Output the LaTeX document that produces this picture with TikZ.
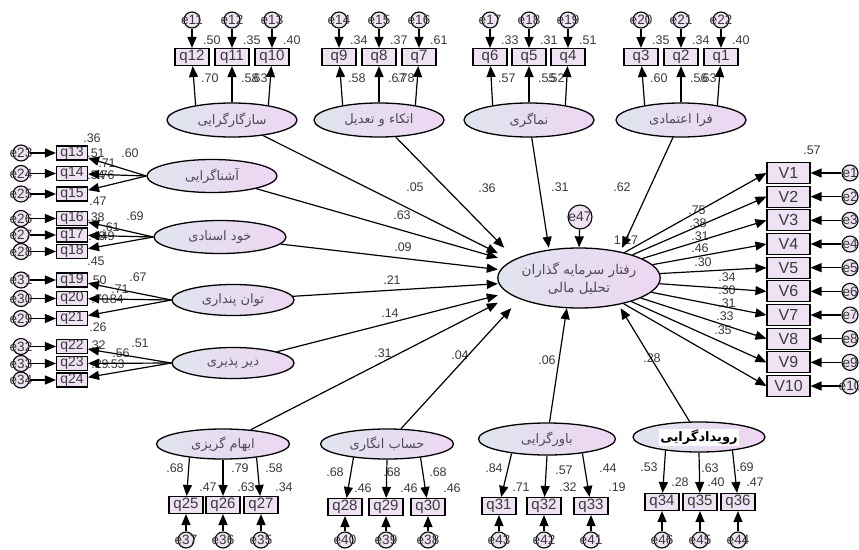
\documentclass[tikz,border=0pt]{standalone}
\usepackage{fontspec}
\setmainfont{Liberation Sans}
\newfontfamily\fa[Script=Arabic]{DejaVu Sans}
\TeXXeTstate=1
\usetikzlibrary{shapes.geometric,arrows.meta}
\definecolor{ellL}{HTML}{E0E4EE}
\definecolor{ellR}{HTML}{EED6F2}
\definecolor{boxF}{HTML}{EEE2F3}
\definecolor{txt}{HTML}{3A3A3A}
\definecolor{fatxt}{HTML}{4E4A58}
\begin{document}
\begin{tikzpicture}[x=1pt,y=-1pt,
 arr/.style={-{Triangle[length=11pt,width=9pt]}, line width=1.2pt, black},
 qbox/.style={draw, line width=1.1pt, fill=boxF, minimum width=34pt, minimum height=17pt, inner sep=0pt, font=\fontsize{15}{15}\selectfont, text=txt},
 lbox/.style={qbox, minimum width=31pt, minimum height=14pt, font=\fontsize{14}{14}\selectfont},
 vbox/.style={qbox, minimum width=43pt, minimum height=21pt, font=\fontsize{16}{16}\selectfont},
 err/.style={circle, draw, line width=1.1pt, fill=boxF, minimum size=16pt, inner sep=0pt, font=\fontsize{13.5}{13.5}\selectfont, text=txt},
 lat/.style={ellipse, draw, line width=1.3pt, left color=ellL, right color=ellR, inner sep=0pt, font=\fa\fontsize{13}{15}\selectfont, text=fatxt},
 lbl/.style={inner sep=0pt, font=\fontsize{12.5}{12.5}\selectfont, text=txt},
]
\useasboundingbox (0,0) rectangle (859,549);

% ---------- latent variables ----------
\node[lat, minimum width=130pt, minimum height=34pt] (A1) at (232,120) {\beginR سازگارگرایی\endR};
\node[lat, minimum width=130pt, minimum height=34pt] (A2) at (379,120) {\beginR اتکاء و تعدیل\endR};
\node[lat, minimum width=130pt, minimum height=34pt] (A3) at (529,120) {\beginR نماگری\endR};
\node[lat, minimum width=130pt, minimum height=34pt] (A4) at (681,120) {\beginR فرا اعتمادی\endR};
\node[lat, minimum width=130pt, minimum height=33pt] (L1) at (212,176) {\beginR آشناگرایی\endR};
\node[lat, minimum width=132pt, minimum height=33pt] (L2) at (220,237) {\beginR خود اسنادی\endR};
\node[lat, minimum width=122pt, minimum height=31pt] (L3) at (233,300) {\beginR توان پنداری\endR};
\node[lat, minimum width=122pt, minimum height=31pt] (L4) at (233,363) {\beginR دیر پذیری\endR};
\node[lat, minimum width=133pt, minimum height=30pt] (B1) at (223,444) {\beginR ابهام گریزی\endR};
\node[lat, minimum width=133pt, minimum height=30pt] (B2) at (387,444) {\beginR حساب انگاری\endR};
\node[lat, minimum width=137pt, minimum height=32pt] (B3) at (547,439) {\beginR باورگرایی\endR};
\node[lat, minimum width=132pt, minimum height=30pt, text=black] (B4) at (699,437) {\setlength{\fboxsep}{1pt}\colorbox{white}{\bfseries\beginR رویدادگرایی\endR}};
\node[lat, minimum width=162pt, minimum height=60pt, align=center, font=\fa\fontsize{13.5}{18}\selectfont] (C) at (579,278) {\beginR رفتار سرمایه گذاران\endR\\\beginR تحلیل مالی\endR};
\node[draw=none, minimum width=162pt, minimum height=60pt, inner sep=0pt] (Cb) at (579,278) {};
\node[err, minimum size=24pt, font=\fontsize{14}{14}\selectfont] (e47) at (580,217) {\makebox[0pt]{e47}};

% ---------- top indicators ----------
\foreach \n/\x/\ee/\rsq in {12/192/11/.50, 11/232/12/.35, 10/272/13/.40, 9/339/14/.34, 8/379/15/.37, 7/419/16/.61, 6/490/17/.33, 5/529/18/.31, 4/568/19/.51, 3/641/20/.35, 2/681/21/.34, 1/721/22/.40}{
  \node[qbox] (q\n) at (\x,57) {q\n};
  \node[err] (e\ee) at (\x,20) {\makebox[0pt]{e\ee}};
  \node[lbl, anchor=west] (r\n) at (\x+11,40) {\rsq};
}
% ---------- left indicators ----------
\foreach \n/\y/\ee in {13/153/23, 14/173.5/24, 15/194/25, 16/218.5/26, 17/235/27, 18/251.5/28, 19/280/31, 20/298.5/30, 21/318.5/29, 22/346.5/32, 23/363.5/33, 24/380/34}{
  \node[lbox] (q\n) at (72,\y) {q\n};
  \node[err] (e\ee) at (21,\y) {\makebox[0pt]{e\ee}};
}
% ---------- bottom indicators ----------
\foreach \n/\x/\y/\ee in {25/186/505/37, 26/223/505/36, 27/261/505/35, 28/345/507/40, 29/386/507/39, 30/428/507/38, 31/499/506/43, 32/544/506/42, 33/591/506/41, 34/662/502/46, 35/700/502/45, 36/738/502/44}{
  \node[qbox] (q\n) at (\x,\y) {q\n};
  \node[err] (e\ee) at (\x,540) {\makebox[0pt]{e\ee}};
}
% ---------- right indicators ----------
\foreach \i in {1,...,10}{
  \pgfmathsetmacro{\vy}{173+(\i-1)*23.67}
  \node[vbox] (V\i) at (788.5,\vy) {V\i};
  \node[err] (e\i) at (850,\vy) {\makebox[0pt]{e\i}};
}

% ---------- labels ----------
\foreach \k/\x/\v in {a/201/.70, b/241/.58, c/250/.63, d/348/.58, e/388/.67, f/397/.78, g/498/.57, h/538/.55, i/547/.52, j/650/.60, k/690/.56, l/699/.63}{
  \node[lbl, anchor=west] (tl\k) at (\x,78) {\v};
}
\foreach \k/\x/\y/\v in {a/92/138/.36, b/130/153/.60, c/96/153/.51, d/107/163/.71, e/96/175/.54, f/106/175/.76, g/98/201/.47,
  h/96/217/.38, i/135/216/.69, j/111/227/.61, k/97/236/.40, l/106/236/.49, m/96/261/.45,
  n/98/280/.50, o/138/277/.67, p/120/289/.71, q/100/299/.70, r/115/299/.84, s/98/327/.26,
  t/97/345/.32, u/140/343/.51, w/121/353/.56, x/100/364/.29, z/116/364/.53}{
  \node[lbl] (ll\k) at (\x,\y) {\v};
}
\foreach \k/\x/\y/\v in {a/175/468/.68, b/208/487/.47, c/240/468/.79, d/246/487/.63, e/274/468/.58, f/284/487/.34,
  g/335/472/.68, h/363/488/.46, i/392/472/.68, j/409/488/.46, k/438/472/.68, l/452/488/.46,
  m/494/468/.84, n/521/487/.71, o/564/470/.57, p/568/487/.32, q/608/468/.44, r/617/487/.19,
  s/649/467/.53, t/680/482/.28, u/710/468/.63, w/716/482/.40, x/745/467/.69, z/755/482/.47}{
  \node[lbl] (bl\k) at (\x,\y) {\v};
}
\foreach \k/\x/\y/\v in {a/415/187/.05, b/487/188/.36, c/560/187/.31, d/622/187/.62, e/402/215/.63, f/403/247/.09,
  g/392/280/.21, h/390/313/.14, i/383/353/.31, j/460/355/.04, k/547/360/.06, l/652/358/.28, m/626/240/1.17}{
  \node[lbl] (pl\k) at (\x,\y) {\v};
}
\foreach \k/\x/\y/\v in {a/697/210/.75, b/698/223/.38, c/700/236/.31, d/700/248/.46, e/703/262/.30,
  f/727/277/.34, g/727/290/.30, h/727/303/.31, i/725/316/.33, j/723/330/.35, k/812/150/.57}{
  \node[lbl] (rl\k) at (\x,\y) {\v};
}

% ---------- connectors ----------
\foreach \ee/\n in {11/12,12/11,13/10,14/9,15/8,16/7,17/6,18/5,19/4,20/3,21/2,22/1,
  23/13,24/14,25/15,26/16,27/17,28/18,31/19,30/20,29/21,32/22,33/23,34/24,
  37/25,36/26,35/27,40/28,39/29,38/30,43/31,42/32,41/33,46/34,45/35,44/36}{
  \draw[arr] (e\ee) -- (q\n);
}
\foreach \i in {1,...,10}{
  \draw[arr] (e\i) -- (V\i);
  \draw[arr] (C) -- (V\i.west);
}
\foreach \a/\l/\m/\r in {A1/12/11/10, A2/9/8/7, A3/6/5/4, A4/3/2/1}{
  \draw[arr] (\a.158) -- (q\l);
  \draw[arr] (\a.north) -- (q\m);
  \draw[arr] (\a.22) -- (q\r);
}
\foreach \a/\l/\m/\r in {B1/25/26/27, B2/28/29/30, B3/31/32/33, B4/34/35/36}{
  \draw[arr] (\a.202) -- (q\l);
  \draw[arr] (\a.south) -- (q\m);
  \draw[arr] (\a.338) -- (q\r);
}
\foreach \a/\l/\m/\r in {L1/13/14/15, L2/16/17/18, L3/19/20/21, L4/22/23/24}{
  \draw[arr] (\a.west) -- (q\l);
  \draw[arr] (\a.west) -- (q\m);
  \draw[arr] (\a.west) -- (q\r);
}
\draw[arr] (A1) -- (Cb.163);
\draw[arr] (A2) -- (Cb.158);
\draw[arr] (A3) -- (Cb.135);
\draw[arr] (A4) -- (Cb.35);
\draw[arr] (L1) -- (Cb.166);
\draw[arr] (L2) -- (Cb.174);
\draw[arr] (L3) -- (Cb.184);
\draw[arr] (L4) -- (Cb.192);
\draw[arr] (B1) -- (Cb.197);
\draw[arr] (B2) -- (Cb.204);
\draw[arr] (B3) -- (Cb.248);
\draw[arr] (B4) -- (Cb.324);
\draw[arr] (e47) -- (C.north);
\end{tikzpicture}
\end{document}
